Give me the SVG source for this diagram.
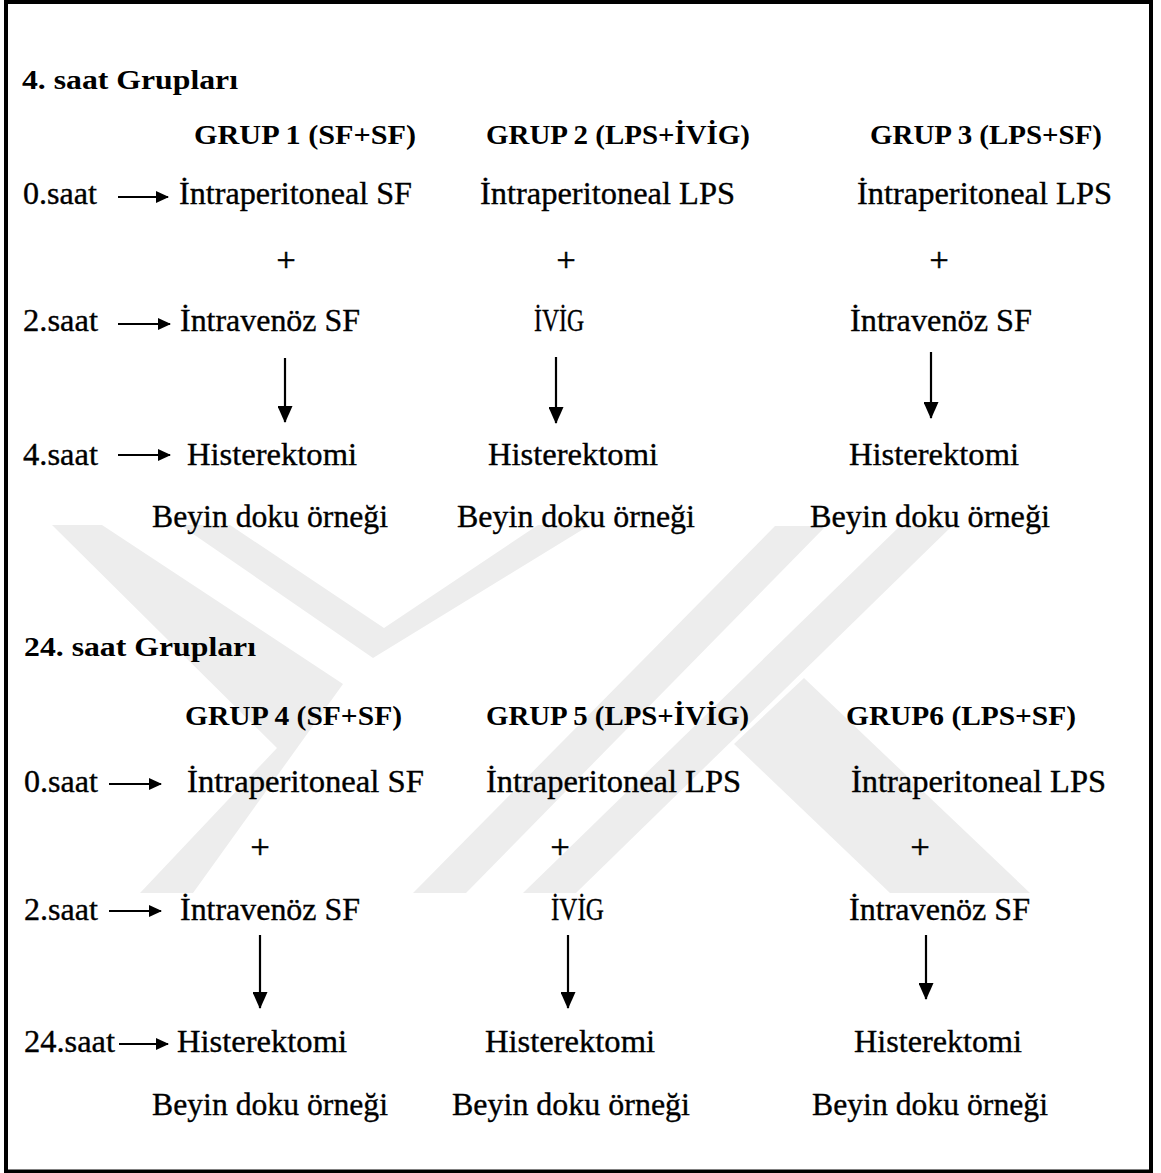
<svg xmlns="http://www.w3.org/2000/svg" width="1161" height="1173" viewBox="0 0 1161 1173">
  <style>
    .t { font-family: "Liberation Serif", "Times New Roman", serif; font-size: 31px; fill: #000; stroke: #000; stroke-width: 0.35; }
    .b { font-family: "Liberation Serif", "Times New Roman", serif; font-size: 28px; font-weight: bold; fill: #000; }
    .p { font-family: "Liberation Serif", "Times New Roman", serif; font-size: 34px; fill: #000; stroke: #000; stroke-width: 0.6; text-anchor: middle; }
    .wm { fill: #ededed; stroke: none; }
    .ar { stroke: #000; stroke-width: 2.2; fill: none; marker-end: url(#h); }
    .dr { stroke: #000; stroke-width: 2.2; fill: none; marker-end: url(#d); }
  </style>
  <defs>
    <marker id="h" markerWidth="13" markerHeight="12" refX="12" refY="6" orient="auto" markerUnits="userSpaceOnUse">
      <path d="M0,0 L13,6 L0,12 z" fill="#000"/>
    </marker>
    <marker id="d" markerWidth="17" markerHeight="15" refX="16" refY="7.5" orient="auto" markerUnits="userSpaceOnUse">
      <path d="M0,0 L17,7.5 L0,15 z" fill="#000"/>
    </marker>
  </defs>
  <rect x="0" y="0" width="1161" height="1173" fill="#fff"/>

  <g id="watermark">
    <polygon class="wm" points="52,525 102,525 343,684 193,893 140,893 277,748"/>
    <polygon class="wm" points="180,525 230,525 384,628 538,525 590,525 373,658"/>
    <polygon class="wm" points="413,893 466,893 826,526 775,526"/>
    <polygon class="wm" points="523,893 576,893 952,526 900,526"/>
    <polygon class="wm" points="734,744 804,678 1030,893 890,893"/>
  </g>

  <rect id="frame" x="6" y="2" width="1145" height="1169.5" fill="none" stroke="#000" stroke-width="4"/>

  <g id="block4h">
    <text id="title4" class="b" x="22" y="89" textLength="216" lengthAdjust="spacingAndGlyphs">4. saat Grupları</text>
    <g id="grup1">
      <text class="b" x="194" y="144" textLength="222" lengthAdjust="spacingAndGlyphs">GRUP 1 (SF+SF)</text>
      <text class="t" x="179" y="204" textLength="233" lengthAdjust="spacingAndGlyphs">İntraperitoneal SF</text>
      <text class="p" x="286" y="271">+</text>
      <text class="t" x="180" y="331" textLength="180" lengthAdjust="spacingAndGlyphs">İntravenöz SF</text>
      <text class="t" x="187" y="465" textLength="170" lengthAdjust="spacingAndGlyphs">Histerektomi</text>
      <text class="t" x="152" y="527" textLength="236" lengthAdjust="spacingAndGlyphs">Beyin doku örneği</text>
    </g>
    <g id="grup2">
      <text class="b" x="486" y="144" textLength="264" lengthAdjust="spacingAndGlyphs">GRUP 2 (LPS+İVİG)</text>
      <text class="t" x="480" y="204" textLength="255" lengthAdjust="spacingAndGlyphs">İntraperitoneal LPS</text>
      <text class="p" x="566" y="271">+</text>
      <text class="t" x="534" y="331" textLength="50" lengthAdjust="spacingAndGlyphs">İVİG</text>
      <text class="t" x="488" y="465" textLength="170" lengthAdjust="spacingAndGlyphs">Histerektomi</text>
      <text class="t" x="457" y="527" textLength="238" lengthAdjust="spacingAndGlyphs">Beyin doku örneği</text>
    </g>
    <g id="grup3">
      <text class="b" x="870" y="144" textLength="232" lengthAdjust="spacingAndGlyphs">GRUP 3 (LPS+SF)</text>
      <text class="t" x="857" y="204" textLength="255" lengthAdjust="spacingAndGlyphs">İntraperitoneal LPS</text>
      <text class="p" x="939" y="271">+</text>
      <text class="t" x="850" y="331" textLength="182" lengthAdjust="spacingAndGlyphs">İntravenöz SF</text>
      <text class="t" x="849" y="465" textLength="170" lengthAdjust="spacingAndGlyphs">Histerektomi</text>
      <text class="t" x="810" y="527" textLength="240" lengthAdjust="spacingAndGlyphs">Beyin doku örneği</text>
    </g>
    <g id="times4">
      <text class="t" x="23" y="204" textLength="74" lengthAdjust="spacingAndGlyphs">0.saat</text>
      <text class="t" x="23" y="331" textLength="75" lengthAdjust="spacingAndGlyphs">2.saat</text>
      <text class="t" x="23" y="465" textLength="75" lengthAdjust="spacingAndGlyphs">4.saat</text>
    </g>
  </g>

  <g id="block24h">
    <text id="title24" class="b" x="24" y="656" textLength="232" lengthAdjust="spacingAndGlyphs">24. saat Grupları</text>
    <g id="grup4">
      <text class="b" x="185" y="725" textLength="217" lengthAdjust="spacingAndGlyphs">GRUP 4 (SF+SF)</text>
      <text class="t" x="187" y="792" textLength="237" lengthAdjust="spacingAndGlyphs">İntraperitoneal SF</text>
      <text class="p" x="260" y="858">+</text>
      <text class="t" x="180" y="920" textLength="180" lengthAdjust="spacingAndGlyphs">İntravenöz SF</text>
      <text class="t" x="177" y="1052" textLength="170" lengthAdjust="spacingAndGlyphs">Histerektomi</text>
      <text class="t" x="152" y="1115" textLength="236" lengthAdjust="spacingAndGlyphs">Beyin doku örneği</text>
    </g>
    <g id="grup5">
      <text class="b" x="486" y="725" textLength="263" lengthAdjust="spacingAndGlyphs">GRUP 5 (LPS+İVİG)</text>
      <text class="t" x="486" y="792" textLength="255" lengthAdjust="spacingAndGlyphs">İntraperitoneal LPS</text>
      <text class="p" x="560" y="858">+</text>
      <text class="t" x="551" y="920" textLength="53" lengthAdjust="spacingAndGlyphs">İVİG</text>
      <text class="t" x="485" y="1052" textLength="170" lengthAdjust="spacingAndGlyphs">Histerektomi</text>
      <text class="t" x="452" y="1115" textLength="238" lengthAdjust="spacingAndGlyphs">Beyin doku örneği</text>
    </g>
    <g id="grup6">
      <text class="b" x="846" y="725" textLength="230" lengthAdjust="spacingAndGlyphs">GRUP6 (LPS+SF)</text>
      <text class="t" x="851" y="792" textLength="255" lengthAdjust="spacingAndGlyphs">İntraperitoneal LPS</text>
      <text class="p" x="920" y="858">+</text>
      <text class="t" x="849" y="920" textLength="181" lengthAdjust="spacingAndGlyphs">İntravenöz SF</text>
      <text class="t" x="854" y="1052" textLength="168" lengthAdjust="spacingAndGlyphs">Histerektomi</text>
      <text class="t" x="812" y="1115" textLength="236" lengthAdjust="spacingAndGlyphs">Beyin doku örneği</text>
    </g>
    <g id="times24">
      <text class="t" x="24" y="792" textLength="74" lengthAdjust="spacingAndGlyphs">0.saat</text>
      <text class="t" x="24" y="920" textLength="74" lengthAdjust="spacingAndGlyphs">2.saat</text>
      <text class="t" x="24" y="1052" textLength="91" lengthAdjust="spacingAndGlyphs">24.saat</text>
    </g>
  </g>

  <g id="connectors">
    <line class="ar" x1="118" y1="197" x2="168" y2="197"/>
    <line class="ar" x1="118" y1="324" x2="170" y2="324"/>
    <line class="ar" x1="118" y1="455" x2="170" y2="455"/>
    <line class="dr" x1="285" y1="358" x2="285" y2="422"/>
    <line class="dr" x1="556" y1="357" x2="556" y2="423"/>
    <line class="dr" x1="931" y1="352" x2="931" y2="418"/>
    <line class="ar" x1="109" y1="784" x2="161" y2="784"/>
    <line class="ar" x1="109" y1="911" x2="161" y2="911"/>
    <line class="ar" x1="119" y1="1044" x2="168" y2="1044"/>
    <line class="dr" x1="260" y1="935" x2="260" y2="1008"/>
    <line class="dr" x1="568" y1="935" x2="568" y2="1008"/>
    <line class="dr" x1="926" y1="935" x2="926" y2="999"/>
  </g>
</svg>
